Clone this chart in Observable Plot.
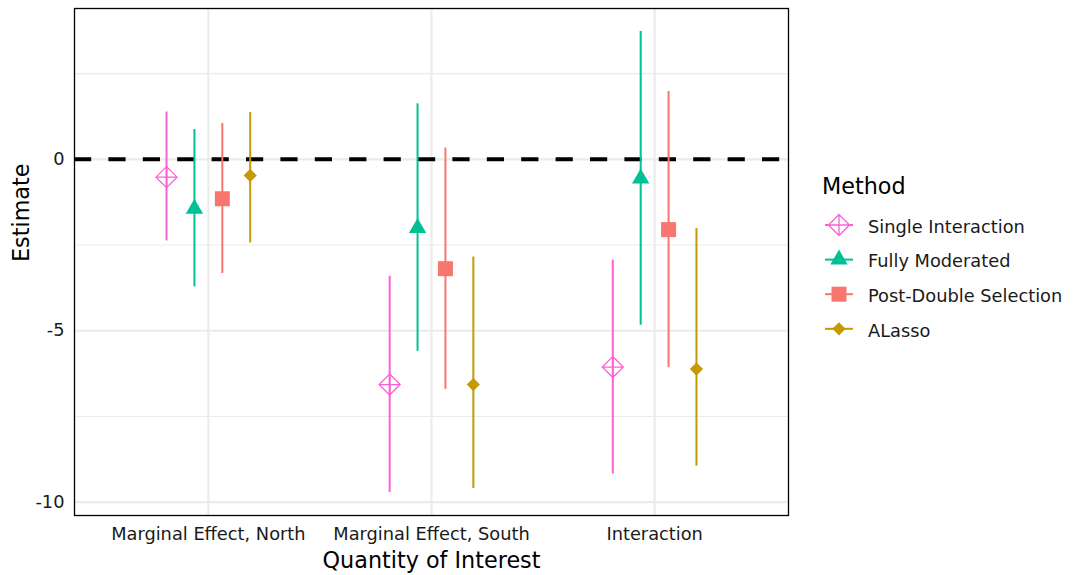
<!DOCTYPE html>
<html>
<head>
<meta charset="utf-8">
<script src="https://cdn.jsdelivr.net/npm/d3@7"></script>
<script src="https://cdn.jsdelivr.net/npm/@observablehq/plot@0.6"></script>
<style>
  body { margin: 0; background: #fff; }
  #chart { position: relative; width: 1076px; height: 575px; font-family: "DejaVu Sans", sans-serif; }
  #chart > svg { position: absolute; left: 0; top: 0; }
</style>
</head>
<body>
<div id="chart"></div>
<script>
// Quantities of interest (x categories) and estimation methods (series)
const categories = ["Marginal Effect, North", "Marginal Effect, South", "Interaction"];
const methods = ["Single Interaction", "Fully Moderated", "Post-Double Selection", "ALasso"];
const colors = ["#FB61D7", "#00C094", "#F8766D", "#C49A00"];

// Point estimates and interval bounds, one value per category
const singleEst = [-0.52, -6.57, -6.06];
const singleLo  = [-2.38, -9.72, -9.18];
const singleHi  = [ 1.38, -3.41, -2.94];

const fullyEst = [-1.44, -2.00, -0.56];
const fullyLo  = [-3.72, -5.60, -4.84];
const fullyHi  = [ 0.87,  1.62,  3.73];

const pdsEst = [-1.15, -3.19, -2.05];
const pdsLo  = [-3.33, -6.71, -6.08];
const pdsHi  = [ 1.05,  0.33,  1.98];

const alassoEst = [-0.47, -6.57, -6.12];
const alassoLo  = [-2.44, -9.60, -8.95];
const alassoHi  = [ 1.37, -2.85, -2.02];

const yTicks = [0, -5, -10];
const yMinor = [2.5, -2.5, -7.5];

// Assemble a tidy table; methods are dodged side by side within each category
const series = [
  [singleEst, singleLo, singleHi],
  [fullyEst, fullyLo, fullyHi],
  [pdsEst, pdsLo, pdsHi],
  [alassoEst, alassoLo, alassoHi]
];
const dodgeWidth = 0.5;
const rows = [];
categories.forEach((cat, ci) => {
  methods.forEach((m, mi) => {
    const [est, lo, hi] = series[mi];
    rows.push({
      category: cat,
      method: m,
      x: ci + 1 + (mi - (methods.length - 1) / 2) * dodgeWidth / methods.length,
      est: est[ci], lo: lo[ci], hi: hi[ci]
    });
  });
});

// Point shapes: diamond with cross, triangle, square, small diamond
const unit = size => Math.sqrt(size / Math.PI);
const symbolShapes = [
  { draw(ctx, size) { const h = unit(size) * 1.05;
      ctx.moveTo(0, -h); ctx.lineTo(h, 0); ctx.lineTo(0, h); ctx.lineTo(-h, 0); ctx.closePath();
      ctx.moveTo(0, -h); ctx.lineTo(0, h); ctx.moveTo(-h, 0); ctx.lineTo(h, 0); } },
  { draw(ctx, size) { const r = unit(size);
      ctx.moveTo(0, -r); ctx.lineTo(0.866 * r, r / 2); ctx.lineTo(-0.866 * r, r / 2); ctx.closePath(); } },
  { draw(ctx, size) { const h = unit(size) * 0.75;
      ctx.moveTo(-h, -h); ctx.lineTo(h, -h); ctx.lineTo(h, h); ctx.lineTo(-h, h); ctx.closePath(); } },
  { draw(ctx, size) { const h = unit(size) * 0.66;
      ctx.moveTo(0, -h); ctx.lineTo(h, 0); ctx.lineTo(0, h); ctx.lineTo(-h, 0); ctx.closePath(); } }
];
const hollow = [true, false, false, false];
const R = 10;

const plot = Plot.plot({
  width: 1076,
  height: 575,
  marginLeft: 74,
  marginRight: 288,
  marginTop: 8,
  marginBottom: 60,
  style: { fontFamily: "DejaVu Sans, sans-serif", background: "white", color: "#1a1a1a" },
  x: { domain: [0.4, 3.6], axis: null },
  y: { domain: [-10.39, 4.40], axis: null },
  color: { domain: methods, range: colors },
  marks: [
    Plot.ruleY(yMinor, { stroke: "#ebebeb", strokeWidth: 1.1 }),
    Plot.ruleY(yTicks, { stroke: "#ebebeb", strokeWidth: 2.1 }),
    Plot.ruleX([1, 2, 3], { stroke: "#ebebeb", strokeWidth: 2.1 }),
    Plot.ruleY([0], { stroke: "black", strokeWidth: 4, strokeDasharray: "17.2,17.2" }),
    Plot.ruleX(rows, { x: "x", y1: "lo", y2: "hi", stroke: "method", strokeWidth: 2 }),
    ...methods.map((m, i) => Plot.dot(rows.filter(d => d.method === m), {
      x: "x", y: "est", r: R, symbol: symbolShapes[i],
      fill: hollow[i] ? "none" : "method",
      stroke: hollow[i] ? "method" : "none",
      strokeWidth: 1.3
    })),
    Plot.frame({ stroke: "black", strokeWidth: 1.3 }),
    Plot.axisY(yTicks, { tickSize: 0, tickPadding: 10, fontSize: 17.8, tickFormat: d => String(d), label: null }),
    Plot.axisX([1, 2, 3], { tickSize: 0, tickPadding: 11.7, fontSize: 17.8, tickFormat: d => categories[d - 1], label: null }),
    Plot.text(["Quantity of Interest"], { frameAnchor: "bottom", lineAnchor: "bottom", dy: 52.3, fontSize: 22.3, fill: "black" }),
    Plot.text(["Estimate"], { frameAnchor: "left", lineAnchor: "bottom", rotate: -90, dx: -46, fontSize: 22.3, fill: "black" })
  ]
});

const chart = document.getElementById("chart");
chart.appendChild(plot);

// Legend for the methods, placed to the right of the panel
const legend = d3.create("svg")
  .attr("width", 276).attr("height", 200)
  .style("left", "800px").style("top", "160px")
  .style("font-family", "DejaVu Sans, sans-serif");
legend.append("text").attr("x", 22).attr("y", 34)
  .attr("font-size", 22.3).attr("fill", "black").text("Method");
methods.forEach((m, i) => {
  const y = 65 + 34.6 * i;
  const g = legend.append("g");
  g.append("line").attr("x1", 25).attr("x2", 53).attr("y1", y).attr("y2", y)
    .attr("stroke", colors[i]).attr("stroke-width", 2);
  const p = d3.path();
  symbolShapes[i].draw(p, R * R * Math.PI);
  g.append("path").attr("d", p.toString())
    .attr("transform", `translate(39,${y})`)
    .attr("fill", hollow[i] ? "white" : colors[i])
    .attr("stroke", hollow[i] ? colors[i] : "none")
    .attr("stroke-width", 1.3);
  g.append("text").attr("x", 68).attr("y", y + 7.7)
    .attr("font-size", 17.8).attr("fill", "#1a1a1a").text(m);
});
chart.appendChild(legend.node());
</script>
</body>
</html>
